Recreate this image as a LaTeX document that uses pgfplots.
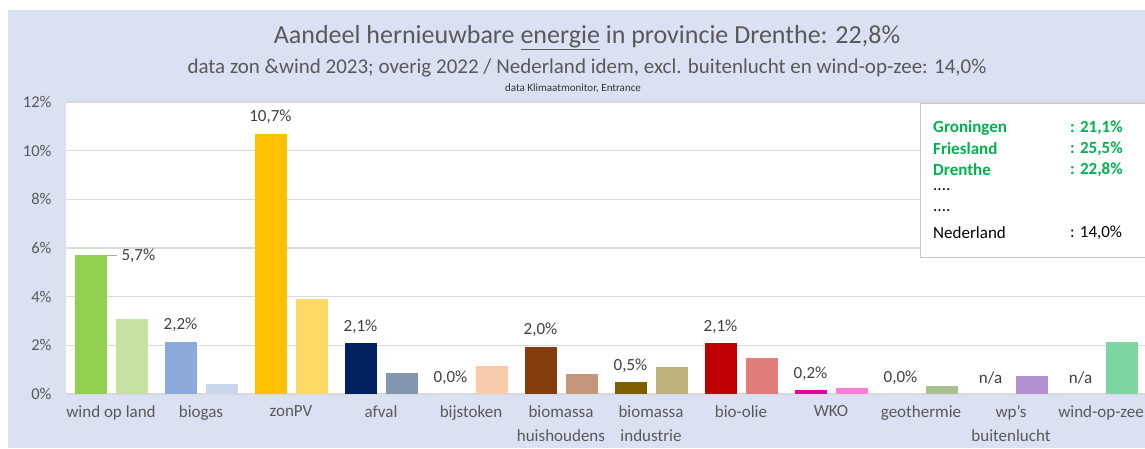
\documentclass[border=0pt]{standalone}
\usepackage{fontspec}
\setmainfont{Carlito}
\usepackage{pgfplots}
\pgfplotsset{compat=1.18}
\definecolor{txt}{HTML}{595959}
\definecolor{lab}{HTML}{404040}
\definecolor{bgblue}{HTML}{DAE1F3}
\definecolor{gridc}{HTML}{D9D9D9}
\definecolor{legg}{HTML}{00B050}
\definecolor{windA}{HTML}{92D050}\definecolor{windB}{HTML}{C5E2A5}
\definecolor{biogA}{HTML}{8EA9DB}\definecolor{biogB}{HTML}{C9D6EE}
\definecolor{zonA}{HTML}{FFC000}\definecolor{zonB}{HTML}{FFD966}
\definecolor{afvA}{HTML}{002060}\definecolor{afvB}{HTML}{8497B0}
\definecolor{bijB}{HTML}{F8CBAD}
\definecolor{bmhA}{HTML}{843C0C}\definecolor{bmhB}{HTML}{C4977C}
\definecolor{bmiA}{HTML}{7F6000}\definecolor{bmiB}{HTML}{C0B07C}
\definecolor{bioA}{HTML}{C00000}\definecolor{bioB}{HTML}{E07C7C}
\definecolor{wkoA}{HTML}{E6009A}\definecolor{wkoB}{HTML}{F77FD6}
\definecolor{geoB}{HTML}{A9C190}
\definecolor{wpB}{HTML}{B18FD1}
\definecolor{wozB}{HTML}{7DD5A1}
\newcommand{\fs}[1]{\fontsize{#1}{#1}\selectfont}
\pgfplotsset{
  dA/.style={ybar, bar width=32pt, bar shift=-20.5pt, draw=none, fill=#1},
  dB/.style={ybar, bar width=32pt, bar shift=20.5pt, draw=none, fill=#1},
  lab/.style={nodes near coords={#1}},
}
\begin{document}
\begin{tikzpicture}[x=1pt,y=1pt]
\path[use as bounding box] (0,0) rectangle (1145,448);
\fill[white] (0,0) rectangle (1145,448);
\fill[bgblue] (8,0) rectangle (1145,438);
\node[text=txt, font=\fs{26}] at (587,410) {Aandeel hernieuwbare \underline{energie} in provincie Drenthe: 22,8\%};
\node[text=txt, font=\fs{21}] at (587,380) {data zon \&wind 2023; overig 2022 / Nederland idem, excl. buitenlucht en wind-op-zee: 14,0\%};
\node[text=black!80, font=\fs{11}] at (573,360) {data Klimaatmonitor, Entrance};
\begin{axis}[
  at={(66pt,54pt)}, anchor=south west, scale only axis,
  width=1080pt, height=292pt,
  xmin=-0.5, xmax=11.5, ymin=0, ymax=12,
  axis background/.style={fill=white},
  axis line style={draw=none},
  tick style={draw=none},
  ymajorgrids, grid style={gridc, line width=1.3pt},
  ytick={0,2,4,6,8,10,12},
  yticklabel={\pgfmathprintnumber{\tick}\%},
  yticklabel style={text=txt, font=\fs{16.5}, xshift=-11pt},
  xtick={0,...,11},
  xticklabels={wind op land, biogas, zonPV, afval, bijstoken, {biomassa\\huishoudens}, {biomassa\\industrie}, bio-olie, WKO, geothermie, {wp\char"27{}s\\buitenlucht}, wind-op-zee},
  xticklabel style={text=txt, font=\fontsize{17}{24}\selectfont, align=center, anchor=north, yshift=-8pt},
  /pgf/number format/assume math mode=true,
  every node near coord/.append style={font=\fs{17}, text=lab, yshift=6pt, xshift=-20.5pt},
  clip=false,
]
% Drenthe (dark) and Nederland (light)
\addplot[dA=windA, nodes near coords={5,7\%}, nodes near coords align=horizontal, every node near coord/.append style={anchor=west, xshift=27.5pt, yshift=-6pt}] coordinates {(0,5.7)};
\addplot[dB=windB] coordinates {(0,3.1)};
\addplot[dA=biogA, lab={2,2\%}] coordinates {(1,2.15)};
\addplot[dB=biogB] coordinates {(1,0.41)};
\addplot[dA=zonA, lab={10,7\%}] coordinates {(2,10.7)};
\addplot[dB=zonB] coordinates {(2,3.9)};
\addplot[dA=afvA, lab={2,1\%}] coordinates {(3,2.08)};
\addplot[dB=afvB] coordinates {(3,0.87)};
\addplot[dA=white, lab={0,0\%}] coordinates {(4,0)};
\addplot[dB=bijB] coordinates {(4,1.15)};
\addplot[dA=bmhA, lab={2,0\%}] coordinates {(5,1.95)};
\addplot[dB=bmhB] coordinates {(5,0.82)};
\addplot[dA=bmiA, lab={0,5\%}] coordinates {(6,0.49)};
\addplot[dB=bmiB] coordinates {(6,1.1)};
\addplot[dA=bioA, lab={2,1\%}] coordinates {(7,2.08)};
\addplot[dB=bioB] coordinates {(7,1.48)};
\addplot[dA=wkoA, lab={0,2\%}] coordinates {(8,0.15)};
\addplot[dB=wkoB] coordinates {(8,0.26)};
\addplot[dA=white, lab={0,0\%}] coordinates {(9,0)};
\addplot[dB=geoB] coordinates {(9,0.32)};
\addplot[dA=white, lab={n/a}] coordinates {(10,0)};
\addplot[dB=wpB] coordinates {(10,0.74)};
\addplot[dA=white, lab={n/a}] coordinates {(11,0)};
\addplot[dB=wozB] coordinates {(11,2.12)};
\draw[gray!70, line width=1pt] ([xshift=-4.5pt]axis cs:0,5.7) -- ([xshift=6pt]axis cs:0,5.7);
\end{axis}
% info box
\draw[gray!45, fill=white, line width=1pt] (920,344) rectangle (1152,191);
\begin{scope}[every node/.style={anchor=west, font=\fs{17}, inner sep=0pt}]
\node[text=legg, font=\fs{17}\bfseries] at (933,320) {Groningen};
\node[text=legg, font=\fs{17}\bfseries] at (1070,320) {: 21,1\%};
\node[text=legg, font=\fs{17}\bfseries] at (933,299) {Friesland};
\node[text=legg, font=\fs{17}\bfseries] at (1070,299) {: 25,5\%};
\node[text=legg, font=\fs{17}\bfseries] at (933,278) {Drenthe};
\node[text=legg, font=\fs{17}\bfseries] at (1070,278) {: 22,8\%};
\node[text=black] at (933,258) {....};
\node[text=black] at (933,237) {....};
\node[text=black] at (933,215) {Nederland};
\node[text=black] at (1070,215) {: 14,0\%};
\end{scope}
\end{tikzpicture}
\end{document}
